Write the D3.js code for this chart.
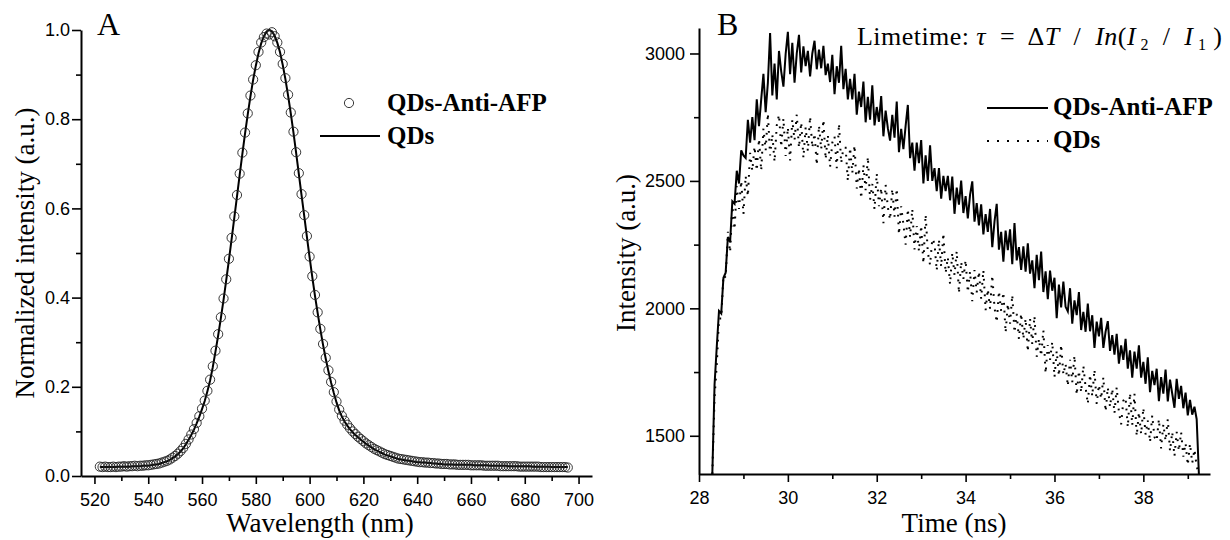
<!DOCTYPE html>
<html>
<head>
<meta charset="utf-8">
<script src="https://cdn.jsdelivr.net/npm/d3@7"></script>
<style>
  body { margin: 0; background: #fff; }
  svg { display: block; }
</style>
</head>
<body>
<div id="chart"></div>
<script>
// ---- Panel A data: normalized PL spectra, 1 nm steps from 522 nm ----
const wavelengthStart = 522;
const qdsSpectrum = [
  .020,.020,.020,.020,.020,.020,.020,.021,.021,.021,.021,.021,.022,.022,.022,.022,.023,.023,
  .023,.024,.025,.026,.027,.029,.031,.033,.036,.040,.044,.049,.055,.062,.071,.081,.092,.104,.118,.133,
  .150,.168,.190,.214,.244,.279,.315,.354,.395,.439,.484,.531,.579,.627,.675,.722,.768,.811,.851,.888,.920,.948,.970,.986,.996,
  1.000,
  .997,.987,.971,.950,.922,.890,.853,.813,.770,.724,.677,.630,.583,.536,.490,.446,.404,.365,.328,.294,.263,.235,.209,.186,.165,.147,
  .133,.122,.113,.105,.098,.092,.087,.082,.077,.072,.068,.064,.060,.057,.054,.051,.048,.046,.044,.042,.040,.038,.037,.036,.035,.034,.033,.032,.031,
  .031,.030,.030,.029,.029,.028,.028,.027,.027,.026,.026,.026,.026,.025,.025,.025,.025,.025,.025,.025,
  .024,.024,.024,.024,.024,.024,.023,.023,.023,.023,.023,.023,.023,.022,.022,.022,.022,.022,.022,.022,
  .022,.022,.021,.021,.021,.021,.021,.021,.021,.020,.020,.020,.020,.020,.020,.020
];
const antiAfpSpectrum = [
  .021,.020,.021,.020,.020,.021,.020,.021,.021,.022,.021,.022,.022,.023,.022,.023,.023,.024,
  .024,.025,.026,.027,.028,.030,.032,.034,.037,.041,.045,.050,.056,.063,.072,.082,.093,.105,.119,.134,
  .151,.169,.191,.216,.246,.281,.318,.356,.398,.441,.487,.534,.582,.630,.678,.725,.770,.813,.853,.889,.921,.951,.972,.984,.992,
  .990,
  .995,.986,.972,.951,.924,.892,.855,.815,.772,.726,.679,.632,.585,.538,.492,.448,.406,.367,.330,.296,.265,.237,.211,.188,.167,.149,
  .135,.124,.115,.107,.100,.094,.088,.083,.078,.073,.069,.065,.061,.058,.055,.052,.049,.047,.045,.043,.041,.039,.038,.037,.036,.035,.034,.033,.032,
  .031,.031,.030,.030,.029,.029,.028,.028,.027,.027,.027,.026,.026,.026,.025,.025,.025,.025,.025,.024,
  .024,.024,.024,.024,.023,.023,.023,.023,.023,.023,.022,.022,.022,.022,.022,.022,.022,.021,.021,.021,
  .021,.021,.021,.021,.021,.020,.020,.020,.020,.020,.020,.020,.020,.020,.020,.019
];
const wavelengthTicks = [520, 540, 560, 580, 600, 620, 640, 660, 680, 700];
const wavelengthMinor = [530, 550, 570, 590, 610, 630, 650, 670, 690];
const normTicks = [0, 0.2, 0.4, 0.6, 0.8, 1.0];
const normMinor = [0.1, 0.3, 0.5, 0.7, 0.9];

// ---- Panel B data: decay curves, 0.05 ns steps from 28.30 ns (one row = 1 ns) ----
const timeStart = 28.30;
const timeStep = 0.05;
const antiAfpDecay = [
  1350,1700,1850,1990,1980,2120,2140,2280,2260,2420,2410,2540,2490,2620,2600,2590,2740,2650,2750,2660,
  2820,2715,2820,2920,2770,2885,3080,2835,2960,2820,3010,2930,2870,2998,3085,2919,3042,2885,3000,3073,
  2926,3028,2950,3010,2910,3000,3050,2938,3015,2942,3030,2915,2960,2888,2995,2840,2950,2885,3030,2860,
  2940,2820,2900,2820,2920,2760,2850,2790,2890,2730,2830,2740,2875,2718,2790,2732,2833,2675,2776,2707,
  2658,2759,2670,2811,2613,2704,2625,2716,2798,2589,2650,2540,2650,2570,2660,2490,2600,2500,2640,2500,
  2550,2460,2550,2430,2520,2460,2520,2424,2517,2371,2474,2407,2501,2374,2440,2353,2445,2498,2340,2413,
  2325,2408,2290,2370,2300,2390,2240,2340,2410,2230,2300,2183,2305,2228,2310,2173,2335,2188,2240,2151,
  2243,2144,2255,2136,2188,2079,2210,2111,2223,2064,2145,2036,2148,2069,2120,1961,2093,2004,2105,2006,
  1988,2079,1940,2031,1973,2064,1915,1986,1908,2019,1910,1973,1845,1948,1890,1963,1845,1908,1950,1833,
  1895,1818,1900,1783,1855,1798,1880,1763,1835,1728,1830,1763,1855,1728,1790,1704,1808,1671,1755,1699,
  1763,1636,1730,1665,1760,1635,1720,1665,1610,1723,1645,1696,1608,1669,1580,1641,1583,1614,1565,1350
];
const qdsDecay = [
  1350,1650,1780,1960,1960,2130,2120,2300,2220,2400,2310,2480,2390,2500,2370,2520,2440,2610,2540,2635,
  2540,2665,2540,2705,2620,2765,2600,2683,2575,2718,2760,2633,2745,2598,2710,2580,2740,2660,2760,2630,
  2730,2590,2710,2617,2753,2630,2686,2562,2718,2624,2740,2585,2680,2555,2650,2675,2550,2725,2570,2630,
  2630,2500,2630,2530,2640,2470,2550,2431,2563,2464,2595,2426,2488,2389,2530,2401,2473,2334,2485,2396,
  2348,2469,2360,2470,2290,2400,2330,2250,2390,2280,2390,2231,2323,2224,2325,2176,2368,2219,2170,2273,
  2255,2148,2270,2163,2295,2138,2200,2094,2218,2131,2225,2059,2183,2116,2190,2063,2145,2028,2150,2063,
  2145,2038,2150,1993,2075,1998,2130,2003,1945,2068,1990,2063,1905,2018,1940,2053,1905,1978,1880,1980,
  1880,1960,1830,1960,1860,1970,1810,1881,1813,1914,1745,1856,1798,1869,1730,1833,1735,1858,1740,1783,
  1695,1798,1710,1815,1660,1755,1670,1775,1690,1625,1740,1655,1760,1625,1700,1645,1730,1595,1690,1613,
  1685,1588,1690,1593,1545,1638,1650,1534,1668,1541,1665,1499,1593,1506,1610,1505,1560,1475,1580,1495,
  1480,1565,1450,1545,1480,1565,1440,1515,1420,1515,1440,1514,1418,1471,1385,1469,1393,1446,1380,1350
];
const timeTicks = [28, 30, 32, 34, 36, 38];
const timeMinor = [29, 31, 33, 35, 37, 39];
const intensityTicks = [1500, 2000, 2500, 3000];
const intensityMinor = [1750, 2250, 2750];

const width = 1230;
const height = 540;
const serif = "'Liberation Serif', 'Times New Roman', serif";
const sans = "'Liberation Sans', Arial, sans-serif";

const svg = d3.select("#chart")
              .append("svg")
              .attr("width", width)
              .attr("height", height);

svg.append("rect").attr("width", width).attr("height", height).attr("fill", "#fff");

// draws major + minor ticks for one panel
function drawAxes(x, y, xMajor, xMinor, yMajor, yMinor, yFormat, yPad) {
    const x0 = x.range()[0], y0 = y.range()[0];

    const xAxis = svg.append("g")
        .attr("transform", `translate(0,${y0})`)
        .call(d3.axisBottom(x).tickValues(xMajor).tickSize(8).tickSizeOuter(0)
                .tickPadding(9).tickFormat(d3.format("d")));
    svg.append("g")
        .attr("transform", `translate(0,${y0})`)
        .call(d3.axisBottom(x).tickValues(xMinor).tickSize(5).tickFormat(""))
        .call(g => g.select(".domain").remove());

    const yAxis = svg.append("g")
        .attr("transform", `translate(${x0},0)`)
        .call(d3.axisLeft(y).tickValues(yMajor).tickSize(9).tickSizeOuter(0)
                .tickPadding(yPad).tickFormat(yFormat));
    svg.append("g")
        .attr("transform", `translate(${x0},0)`)
        .call(d3.axisLeft(y).tickValues(yMinor).tickSize(5).tickFormat(""))
        .call(g => g.select(".domain").remove());

    [xAxis, yAxis].forEach(a => {
        a.selectAll("text").style("font-family", sans).style("font-size", "18px").attr("fill", "#000");
    });
    svg.selectAll(".domain").attr("stroke", "#000").attr("stroke-width", 2);
    svg.selectAll(".tick line").attr("stroke", "#000").attr("stroke-width", 1.6);
}

// ================= Panel A =================
const xA = d3.scaleLinear().domain([515, 705]).range([81, 592]);
const yA = d3.scaleLinear().domain([0, 1.0]).range([476, 30]);

drawAxes(xA, yA, wavelengthTicks, wavelengthMinor, normTicks, normMinor, d3.format(".1f"), 2);

const lineA = d3.line()
    .x((d, i) => xA(wavelengthStart + i))
    .y(d => yA(d));

svg.append("path")
   .datum(qdsSpectrum)
   .attr("d", lineA)
   .attr("fill", "none")
   .attr("stroke", "#000")
   .attr("stroke-width", 2);

svg.append("g")
   .selectAll("circle")
   .data(antiAfpSpectrum)
   .enter()
   .append("circle")
   .attr("cx", (d, i) => xA(wavelengthStart + i))
   .attr("cy", d => yA(d))
   .attr("r", 4.6)
   .attr("fill", "none")
   .attr("stroke", "#222")
   .attr("stroke-width", 0.9);

// panel letter, legend, axis titles
svg.append("text").attr("x", 97).attr("y", 35).text("A")
   .style("font-family", serif).style("font-size", "32px");

svg.append("circle").attr("cx", 349).attr("cy", 103).attr("r", 4.6)
   .attr("fill", "none").attr("stroke", "#222").attr("stroke-width", 0.9);
svg.append("text").attr("x", 387).attr("y", 111).text("QDs-Anti-AFP")
   .style("font-family", serif).style("font-size", "25px").style("font-weight", "bold");
svg.append("line").attr("x1", 320).attr("x2", 380).attr("y1", 136).attr("y2", 136)
   .attr("stroke", "#000").attr("stroke-width", 2);
svg.append("text").attr("x", 387).attr("y", 144).text("QDs")
   .style("font-family", serif).style("font-size", "25px").style("font-weight", "bold");

svg.append("text").attr("x", 320).attr("y", 532).attr("text-anchor", "middle")
   .text("Wavelength (nm)")
   .style("font-family", serif).style("font-size", "27px");
svg.append("text").attr("transform", "translate(34,253) rotate(-90)").attr("text-anchor", "middle")
   .text("Normalized intensity (a.u.)")
   .style("font-family", serif).style("font-size", "27px");

// ================= Panel B =================
const xB = d3.scaleLinear().domain([28, 39.5]).range([699, 1210]);
const yB = d3.scaleLinear().domain([1350, 3100]).range([474, 28]);

drawAxes(xB, yB, timeTicks, timeMinor, intensityTicks, intensityMinor, d3.format("d"), 5);

svg.append("clipPath").attr("id", "clipB")
   .append("rect").attr("x", 699).attr("y", 28).attr("width", 511).attr("height", 446);

const lineB = d3.line()
    .x((d, i) => xB(timeStart + i * timeStep))
    .y(d => yB(d));

const plotB = svg.append("g").attr("clip-path", "url(#clipB)");

plotB.append("path")
     .datum(qdsDecay)
     .attr("d", lineB)
     .attr("fill", "none")
     .attr("stroke", "#000")
     .attr("stroke-width", 2)
     .attr("stroke-dasharray", "1.8,6");

plotB.append("path")
     .datum(antiAfpDecay)
     .attr("d", lineB)
     .attr("fill", "none")
     .attr("stroke", "#000")
     .attr("stroke-width", 2);

svg.append("text").attr("x", 717).attr("y", 35).text("B")
   .style("font-family", serif).style("font-size", "32px");

// lifetime formula
const formula = svg.append("text")
   .attr("x", 857).attr("y", 45)
   .attr("textLength", 365)
   .attr("lengthAdjust", "spacing")
   .style("font-family", serif).style("font-size", "26px")
   .style("white-space", "pre");
formula.append("tspan").text("Limetime: ");
formula.append("tspan").style("font-style", "italic").text("τ");
formula.append("tspan").text("  =  Δ");
formula.append("tspan").style("font-style", "italic").text("T");
formula.append("tspan").text("  /  ");
formula.append("tspan").style("font-style", "italic").text("In");
formula.append("tspan").text("(");
formula.append("tspan").style("font-style", "italic").text("I");
formula.append("tspan").attr("dy", 5).style("font-size", "16px").text(" 2");
formula.append("tspan").attr("dy", -5).text("  /  ");
formula.append("tspan").style("font-style", "italic").text("I");
formula.append("tspan").attr("dy", 5).style("font-size", "16px").text(" 1");
formula.append("tspan").attr("dy", -5).text(" )");

// legend B
svg.append("line").attr("x1", 987).attr("x2", 1048).attr("y1", 108).attr("y2", 108)
   .attr("stroke", "#000").attr("stroke-width", 2);
svg.append("text").attr("x", 1053).attr("y", 115).text("QDs-Anti-AFP")
   .style("font-family", serif).style("font-size", "25px").style("font-weight", "bold");
svg.append("line").attr("x1", 987).attr("x2", 1048).attr("y1", 141).attr("y2", 141)
   .attr("stroke", "#000").attr("stroke-width", 2).attr("stroke-dasharray", "2,8");
svg.append("text").attr("x", 1053).attr("y", 148).text("QDs")
   .style("font-family", serif).style("font-size", "25px").style("font-weight", "bold");

svg.append("text").attr("x", 954).attr("y", 532).attr("text-anchor", "middle")
   .text("Time (ns)")
   .style("font-family", serif).style("font-size", "27px");
svg.append("text").attr("transform", "translate(635,253) rotate(-90)").attr("text-anchor", "middle")
   .text("Intensity (a.u.)")
   .style("font-family", serif).style("font-size", "27px");
</script>
</body>
</html>
